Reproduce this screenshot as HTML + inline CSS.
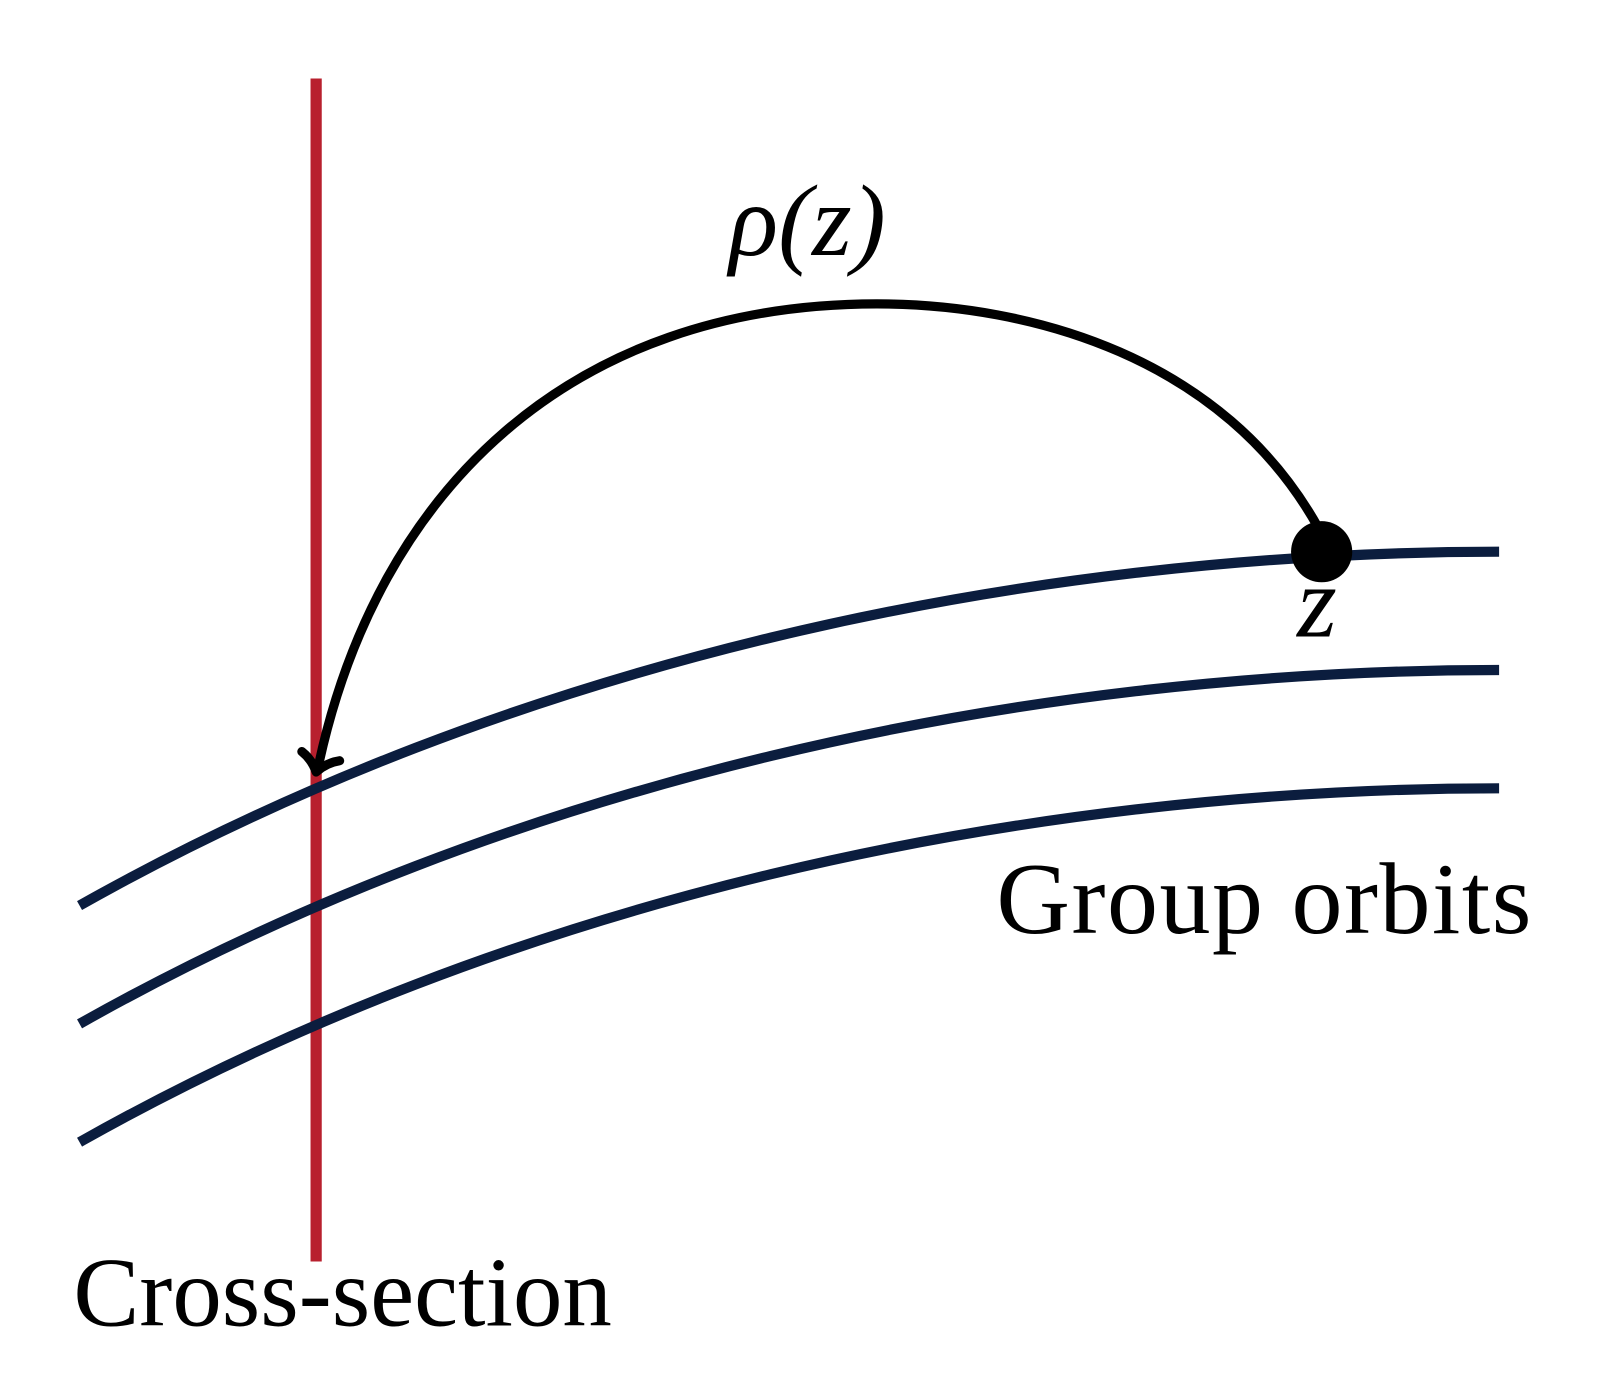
<!DOCTYPE html>
<html><head><style>
html,body{margin:0;padding:0;background:#fff;}
svg{display:block;}
text{font-family:"Liberation Serif",serif;fill:#000;}
</style></head><body>
<svg width="1597" height="1391" viewBox="0 0 1566 1364" xmlns="http://www.w3.org/2000/svg">
<line x1="310" y1="77" x2="310" y2="1237" stroke="#b8202e" stroke-width="11"/>
<g fill="none" stroke="#0b1d3e" stroke-width="10">
<path d="M78,888 C500,650 1000,541 1470,541"/>
<path d="M78,1004 C500,766 1000,657 1470,657"/>
<path d="M78,1120 C500,882 1000,773 1470,773"/>
</g>
<path d="M1293,518 C1200,350 1010,298 860,298 C560,298 370,480 312,752" fill="none" stroke="#000" stroke-width="9"/>
<path d="M296,737 Q306,745 310,757 Q320,748 333,746" fill="none" stroke="#000" stroke-width="9" stroke-linecap="round" stroke-linejoin="round"/>
<circle cx="1296" cy="541" r="30" fill="#000"/>
<text x="715" y="250" font-size="100" font-style="italic">ρ(z)</text>
<text x="1272" y="624" font-size="100" font-style="italic">z</text>
<text x="977" y="915" font-size="100" letter-spacing="1.5">Group orbits</text>
<text x="72" y="1300" font-size="97">Cross-section</text>
</svg>
</body></html>
